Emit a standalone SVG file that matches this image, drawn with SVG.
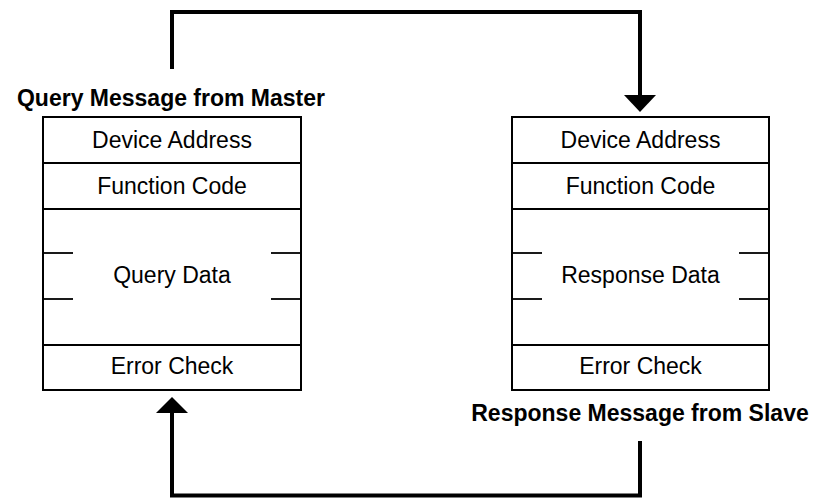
<svg xmlns="http://www.w3.org/2000/svg" width="818" height="498" viewBox="0 0 818 498">
  <style>
    .frame { fill: #ffffff; stroke: #000000; stroke-width: 2; }
    .rule { stroke: #000000; stroke-width: 2; fill: none; }
    .tick { stroke: #000000; stroke-width: 1.8; fill: none; }
    .field { font-family: "Liberation Sans", Arial, sans-serif; font-size: 23px; fill: #000000; text-anchor: middle; }
    .title { font-family: "Liberation Sans", Arial, sans-serif; font-size: 23px; font-weight: bold; fill: #000000; text-anchor: middle; }
    .flow { stroke: #000000; stroke-width: 4; fill: none; stroke-linejoin: miter; }
    .head { fill: #000000; stroke: none; }
  </style>
  <rect width="818" height="498" fill="#ffffff"/>

  <!-- Query frame sent by the master -->
  <g id="query-message">
    <text class="title" x="171" y="106">Query Message from Master</text>
    <rect class="frame" x="43" y="117" width="258" height="273"/>
    <line class="rule" x1="43" y1="163" x2="301" y2="163"/>
    <line class="rule" x1="43" y1="209" x2="301" y2="209"/>
    <line class="rule" x1="43" y1="345" x2="301" y2="345"/>
    <line class="tick" x1="43" y1="253" x2="73" y2="253"/>
    <line class="tick" x1="43" y1="299" x2="73" y2="299"/>
    <line class="tick" x1="271" y1="253" x2="301" y2="253"/>
    <line class="tick" x1="271" y1="299" x2="301" y2="299"/>
    <text class="field" x="172" y="148">Device Address</text>
    <text class="field" x="172" y="194">Function Code</text>
    <text class="field" x="172" y="282.5">Query Data</text>
    <text class="field" x="172" y="373.5">Error Check</text>
  </g>

  <!-- Response frame returned by the slave -->
  <g id="response-message">
    <rect class="frame" x="512" y="117" width="257" height="273"/>
    <line class="rule" x1="512" y1="163" x2="769" y2="163"/>
    <line class="rule" x1="512" y1="209" x2="769" y2="209"/>
    <line class="rule" x1="512" y1="345" x2="769" y2="345"/>
    <line class="tick" x1="512" y1="253" x2="542" y2="253"/>
    <line class="tick" x1="512" y1="299" x2="542" y2="299"/>
    <line class="tick" x1="739" y1="253" x2="769" y2="253"/>
    <line class="tick" x1="739" y1="299" x2="769" y2="299"/>
    <text class="field" x="640.5" y="148">Device Address</text>
    <text class="field" x="640.5" y="194">Function Code</text>
    <text class="field" x="640.5" y="282.5">Response Data</text>
    <text class="field" x="640.5" y="373.5">Error Check</text>
    <text class="title" x="640" y="421">Response Message from Slave</text>
  </g>

  <!-- Request and reply paths -->
  <g id="connectors">
    <path class="flow" d="M172 69 V12 H640 V96"/>
    <polygon class="head" points="624,95 656,95 640,112"/>
    <path class="flow" d="M640 441 V495.5 H172 V412"/>
    <polygon class="head" points="156,413 188,413 172,397"/>
  </g>
</svg>
